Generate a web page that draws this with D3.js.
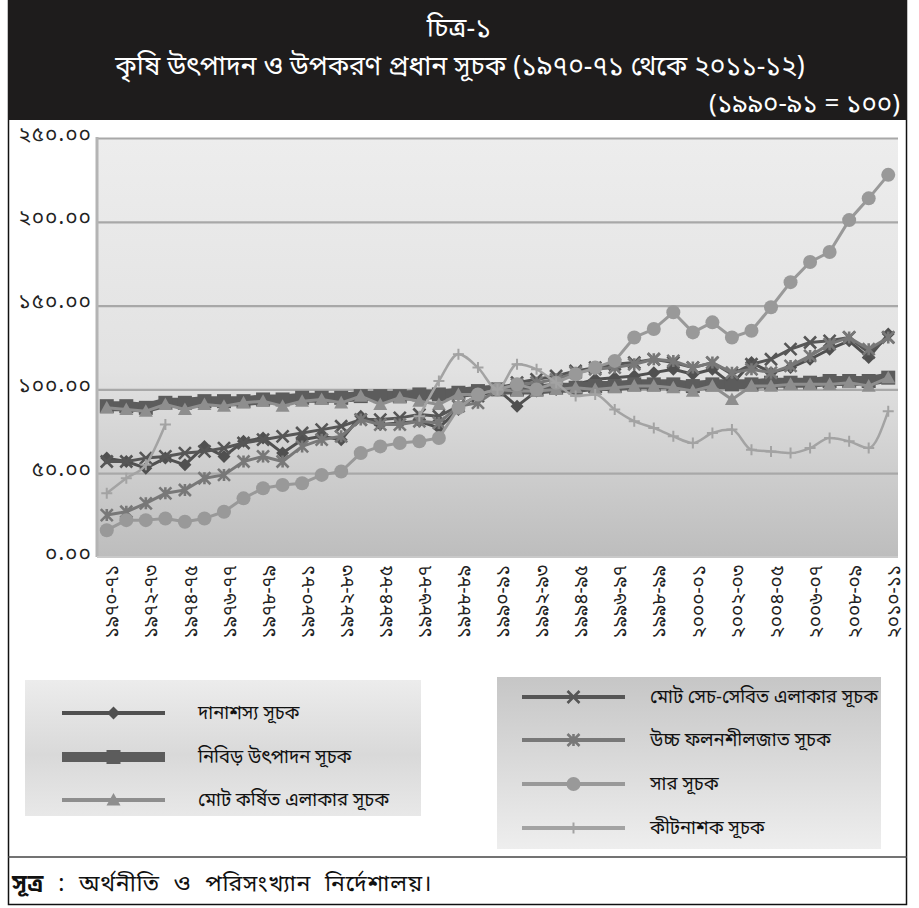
<!DOCTYPE html>
<html>
<head>
<meta charset="utf-8">
<script src="https://cdn.jsdelivr.net/npm/d3@7/dist/d3.min.js"></script>
<style>
  html, body { margin: 0; padding: 0; background: #fff; }
  svg { display: block; }
  text { font-family: "Noto Sans Bengali", "Noto Serif Bengali", "Lohit Bengali", "Noto Sans", sans-serif; }
</style>
</head>
<body>
<svg id="chart" width="919" height="908"></svg>
<script>
// Fiscal years on the category axis
const categories = [
  "১৯৭০-৭১","১৯৭১-৭২","১৯৭২-৭৩","১৯৭৩-৭৪","১৯৭৪-৭৫","১৯৭৫-৭৬","১৯৭৬-৭৭","১৯৭৭-৭৮",
  "১৯৭৮-৭৯","১৯৭৯-৮০","১৯৮০-৮১","১৯৮১-৮২","১৯৮২-৮৩","১৯৮৩-৮৪","১৯৮৪-৮৫","১৯৮৫-৮৬",
  "১৯৮৬-৮৭","১৯৮৭-৮৮","১৯৮৮-৮৯","১৯৮৯-৯০","১৯৯০-৯১","১৯৯১-৯২","১৯৯২-৯৩","১৯৯৩-৯৪",
  "১৯৯৪-৯৫","১৯৯৫-৯৬","১৯৯৬-৯৭","১৯৯৭-৯৮","১৯৯৮-৯৯","১৯৯৯-০০","২০০০-০১","২০০১-০২",
  "২০০২-০৩","২০০৩-০৪","২০০৪-০৫","২০০৫-০৬","২০০৬-০৭","২০০৭-০৮","২০০৮-০৯","২০০৯-১০",
  "২০১০-১১"
];

// Index values (1990-91 = 100)
const foodgrain   = [59,57,53,59,55,66,60,69,71,62,70,72,70,84,79,80,81,77,88,97,100,90,99,100,103,106,107,108,110,112,109,112,103,116,110,113,118,124,129,119,133];
const intensity   = [90,90,89,92,92,93,93,93,94,94,95,95,95,96,96,96,97,97,98,99,100,100,100,101,101,102,102,103,103,103,102,103,103,103,104,104,104,105,105,105,107];
const cultivated  = [89,88,87,91,88,91,90,92,93,90,93,94,92,96,91,95,93,91,97,97,100,99,99,100,101,100,101,102,102,101,99,102,94,102,102,103,103,103,104,102,107];
const irrigated   = [57,57,59,60,62,63,65,68,70,72,74,76,78,82,82,83,85,84,90,96,100,104,106,108,111,113,115,116,118,116,113,116,109,115,118,124,128,129,131,122,131];
const hyv         = [25,27,32,38,40,47,49,57,60,57,66,70,72,82,79,79,81,80,90,92,100,103,104,106,110,112,113,115,118,117,113,116,110,112,110,114,120,127,131,124,131];
const fertilizer  = [16,22,22,23,21,23,27,35,41,43,44,49,51,62,66,68,69,71,89,97,100,103,100,104,109,113,117,131,136,146,134,140,131,135,149,164,176,182,201,214,228];
const pesticide   = [38,47,55,79,null,null,null,null,null,null,null,null,null,null,null,null,84,105,121,113,100,115,112,104,96,97,88,81,77,72,68,74,76,64,63,62,65,71,69,65,87];

const yTickValues = [0, 50, 100, 150, 200, 250];
const yTickLabels = ["০.০০", "৫০.০০", "১০০.০০", "১৫০.০০", "২০০.০০", "২৫০.০০"];

const seriesNames = [
  "দানাশস্য সূচক",
  "নিবিড় উৎপাদন সূচক",
  "মোট কর্ষিত এলাকার সূচক",
  "মোট সেচ-সেবিত এলাকার সূচক",
  "উচ্চ ফলনশীলজাত সূচক",
  "সার সূচক",
  "কীটনাশক সূচক"
];

const titleLine1 = "চিত্র-১";
const titleLine2 = "কৃষি উৎপাদন ও উপকরণ প্রধান সূচক (১৯৭০-৭১ থেকে ২০১১-১২)";
const titleLine3 = "(১৯৯০-৯১ = ১০০)";
const sourceLabel = "সূত্র";
const sourceText = " : অর্থনীতি ও পরিসংখ্যান নির্দেশালয়।";

// ---- styling for each series ----
const series = [
  { name: seriesNames[0], values: foodgrain,  color: "#505050", width: 3,   marker: "diamond",  size: 13, curve: d3.curveLinear },
  { name: seriesNames[1], values: intensity,  color: "#5c5c5c", width: 10,  marker: "square",   size: 14, curve: d3.curveLinear },
  { name: seriesNames[2], values: cultivated, color: "#8e8e8e", width: 3,   marker: "triangle", size: 14, curve: d3.curveLinear },
  { name: seriesNames[3], values: irrigated,  color: "#565656", width: 3,   marker: "x",        size: 12, curve: d3.curveLinear },
  { name: seriesNames[4], values: hyv,        color: "#787878", width: 3,   marker: "star",     size: 12, curve: d3.curveLinear },
  { name: seriesNames[5], values: fertilizer, color: "#999999", width: 3,   marker: "circle",   size: 14, curve: d3.curveLinear },
  { name: seriesNames[6], values: pesticide,  color: "#a3a3a3", width: 2.5, marker: "plus",     size: 11, curve: d3.curveMonotoneX }
];

const svg = d3.select("#chart");
const defs = svg.append("defs");

const plotGrad = defs.append("linearGradient").attr("id", "plotBg").attr("x1", 0).attr("y1", 0).attr("x2", 0).attr("y2", 1);
plotGrad.append("stop").attr("offset", "0%").attr("stop-color", "#ededed");
plotGrad.append("stop").attr("offset", "55%").attr("stop-color", "#e2e2e2");
plotGrad.append("stop").attr("offset", "100%").attr("stop-color", "#bdbdbd");

const legGradL = defs.append("linearGradient").attr("id", "legL").attr("x1", 0).attr("y1", 0).attr("x2", 0).attr("y2", 1);
legGradL.append("stop").attr("offset", "0%").attr("stop-color", "#ececec");
legGradL.append("stop").attr("offset", "55%").attr("stop-color", "#d9d9d9");
legGradL.append("stop").attr("offset", "100%").attr("stop-color", "#e8e8e8");

const legGradR = defs.append("linearGradient").attr("id", "legR").attr("x1", 0).attr("y1", 0).attr("x2", 0).attr("y2", 1);
legGradR.append("stop").attr("offset", "0%").attr("stop-color", "#c6c6c6");
legGradR.append("stop").attr("offset", "45%").attr("stop-color", "#d8d8d8");
legGradR.append("stop").attr("offset", "100%").attr("stop-color", "#eeeeee");

// ---- frame and header ----
svg.append("rect").attr("x", 8.5).attr("y", 0.5).attr("width", 898).attr("height", 904)
  .attr("fill", "#fff").attr("stroke", "#111").attr("stroke-width", 1.5);
svg.append("rect").attr("x", 8).attr("y", 0).attr("width", 899).attr("height", 120).attr("fill", "#1e1c1c");

svg.append("text").attr("x", 459).attr("y", 37).attr("text-anchor", "middle")
  .attr("fill", "#fff").attr("font-size", 27).text(titleLine1);
svg.append("text").attr("x", 460).attr("y", 75).attr("text-anchor", "middle")
  .attr("fill", "#fff").attr("font-size", 26.5).text(titleLine2);
svg.append("text").attr("x", 900).attr("y", 112).attr("text-anchor", "end")
  .attr("fill", "#fff").attr("font-size", 26).text(titleLine3);

// ---- scales ----
const plotL = 97, plotR = 898, plotT = 138, plotB = 557;
const x = d3.scaleBand().domain(categories).range([plotL, plotR]).padding(0);
const y = d3.scaleLinear().domain([0, 250]).range([plotB, plotT]);
const cx = c => x(c) + x.bandwidth() / 2;

// plot background
svg.append("rect").attr("x", plotL).attr("y", plotT).attr("width", plotR - plotL).attr("height", plotB - plotT)
  .attr("fill", "url(#plotBg)");

// gridlines
const grid = svg.append("g").attr("transform", `translate(${plotL},0)`)
  .call(d3.axisLeft(y).tickValues(yTickValues.filter(v => v > 0)).tickSize(-(plotR - plotL)).tickFormat(""));
grid.select(".domain").remove();
grid.selectAll("line").attr("stroke", "#a8a8a8").attr("stroke-width", 2.2);

// y axis labels
const yAxis = svg.append("g").attr("transform", `translate(${plotL},0)`)
  .call(d3.axisLeft(y).tickValues(yTickValues).tickSize(0).tickPadding(5).tickFormat((d, i) => yTickLabels[i]));
yAxis.select(".domain").remove();
yAxis.selectAll("text").attr("font-size", 21).attr("letter-spacing", 1).attr("fill", "#222").attr("dy", "0.1em");

// left axis rule and baseline
svg.append("line").attr("x1", plotL).attr("x2", plotL).attr("y1", plotT - 1).attr("y2", plotB)
  .attr("stroke", "#b4b4b4").attr("stroke-width", 3);
svg.append("line").attr("x1", plotL).attr("x2", plotR).attr("y1", plotB).attr("y2", plotB)
  .attr("stroke", "#c9c9c9").attr("stroke-width", 2);

// x axis labels (every other year, vertical)
const xAxis = svg.append("g").attr("transform", `translate(0,${plotB})`)
  .call(d3.axisBottom(x).tickValues(categories.filter((d, i) => i % 2 === 0)).tickSize(0));
xAxis.select(".domain").remove();
xAxis.selectAll("text")
  .attr("font-size", 19).attr("fill", "#222")
  .attr("text-anchor", "end")
  .attr("transform", "rotate(-90)")
  .attr("x", -8).attr("y", 5).attr("dy", "0.35em");

// ---- markers ----
function markerPath(type, s) {
  const h = s / 2;
  switch (type) {
    case "diamond":  return `M0,${-h}L${h},0L0,${h}L${-h},0Z`;
    case "square":   return `M${-h},${-h}H${h}V${h}H${-h}Z`;
    case "triangle": return `M0,${-h}L${h},${h * 0.8}L${-h},${h * 0.8}Z`;
    case "x":        return `M${-h},${-h}L${h},${h}M${h},${-h}L${-h},${h}`;
    case "star":     return `M${-h},${-h}L${h},${h}M${h},${-h}L${-h},${h}M0,${-h}V${h}`;
    case "plus":     return `M0,${-h}V${h}M${-h},0H${h}`;
    default:         return d3.symbol(d3.symbolCircle, Math.PI * h * h)();
  }
}
const strokeOnly = t => t === "x" || t === "star" || t === "plus";

function drawMarker(g, type, s, color) {
  const p = g.append("path").attr("d", markerPath(type, s));
  if (strokeOnly(type)) p.attr("fill", "none").attr("stroke", color).attr("stroke-width", type === "plus" ? 2 : 2.6);
  else p.attr("fill", color);
}

// ---- series lines ----
const plotG = svg.append("g");
series.forEach(s => {
  const pts = categories.map((c, i) => ({ c, v: s.values[i] }));
  const line = d3.line().defined(d => d.v !== null).x(d => cx(d.c)).y(d => y(d.v)).curve(s.curve);
  const g = plotG.append("g");
  g.append("path").datum(pts).attr("d", line)
    .attr("fill", "none").attr("stroke", s.color).attr("stroke-width", s.width)
    .attr("stroke-linejoin", "round");
  pts.filter(d => d.v !== null).forEach(d => {
    const m = g.append("g").attr("transform", `translate(${cx(d.c)},${y(d.v)})`);
    drawMarker(m, s.marker, s.size, s.color);
  });
});

// ---- legends ----
function legendBox(x0, y0, w, h, fill, items, rowY, lineX0, lineX1, textX) {
  svg.append("rect").attr("x", x0).attr("y", y0).attr("width", w).attr("height", h).attr("fill", fill);
  items.forEach((s, i) => {
    const yy = rowY[i];
    svg.append("line").attr("x1", lineX0).attr("x2", lineX1).attr("y1", yy).attr("y2", yy)
      .attr("stroke", s.color).attr("stroke-width", Math.max(4, s.width));
    const m = svg.append("g").attr("transform", `translate(${(lineX0 + lineX1) / 2},${yy})`);
    drawMarker(m, s.marker, s.size, s.color);
    svg.append("text").attr("x", textX).attr("y", yy).attr("dy", "0.35em")
      .attr("font-size", 18.5).attr("fill", "#111").text(s.name);
  });
}
legendBox(25, 680, 396, 136, "url(#legL)", series.slice(0, 3), [713, 757, 800], 62, 165, 198);
legendBox(497, 677, 384, 172, "url(#legR)", series.slice(3), [697, 740, 784, 828], 522, 625, 650);

// ---- source ----
svg.append("line").attr("x1", 8).attr("x2", 907).attr("y1", 857).attr("y2", 857)
  .attr("stroke", "#444").attr("stroke-width", 1.5);
const src = svg.append("text").attr("x", 12).attr("y", 891).attr("font-size", 23)
  .attr("letter-spacing", 0.8).attr("word-spacing", 7).attr("fill", "#111");
src.append("tspan").attr("font-weight", "bold").text(sourceLabel);
src.append("tspan").text(sourceText);
</script>
</body>
</html>
